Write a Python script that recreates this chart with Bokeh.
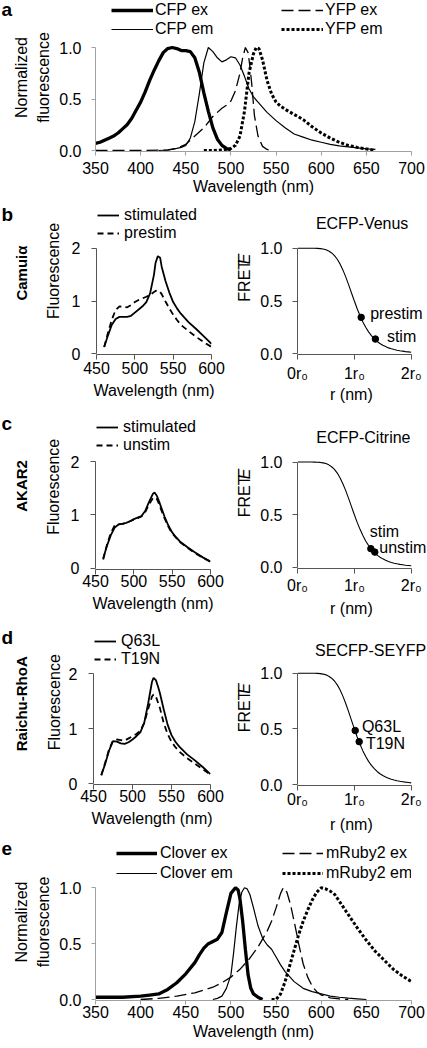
import math
from bokeh.plotting import figure
from bokeh.models import Range1d, Legend, LegendItem, Label, FixedTicker, NumeralTickFormatter
from bokeh.layouts import column, row
from bokeh.embed import file_html
from bokeh.resources import INLINE

FONT = "Liberation Sans"
FS = "16px"
LIGHT = "#a0a0a0"
DARK = "#555555"
NBSP = "\u00a0"

# ---------------- data ----------------
# panel a: CFP / YFP spectra
cfp_ex_wl = [350, 355, 360, 365, 370, 375, 380, 385, 390, 395, 400, 405, 410, 415, 420, 425, 430, 435, 440, 445, 450, 455, 460, 465, 470, 475, 480, 485, 490, 495, 500]
cfp_ex = [0.07, 0.08, 0.10, 0.12, 0.14, 0.17, 0.21, 0.25, 0.31, 0.39, 0.47, 0.57, 0.68, 0.78, 0.87, 0.95, 0.99, 1.0, 0.99, 0.97, 0.97, 0.96, 0.90, 0.76, 0.56, 0.38, 0.22, 0.11, 0.05, 0.02, 0.005]
cfp_em_wl = [420, 430, 440, 445, 450, 455, 460, 465, 470, 475, 480, 485, 490, 495, 500, 505, 510, 515, 520, 525, 530, 540, 550, 560, 570, 580, 590, 600, 610, 620, 630, 640, 650, 660]
cfp_em = [0.0, 0.005, 0.02, 0.03, 0.05, 0.12, 0.28, 0.55, 0.85, 1.0, 0.96, 0.90, 0.86, 0.88, 0.91, 0.90, 0.83, 0.72, 0.60, 0.52, 0.47, 0.37, 0.29, 0.22, 0.16, 0.13, 0.10, 0.08, 0.06, 0.045, 0.035, 0.025, 0.015, 0.01]
yfp_ex_wl = [350, 400, 430, 440, 450, 460, 470, 480, 490, 495, 500, 505, 510, 513, 516, 519, 521, 523, 526, 530, 535, 540, 545]
yfp_ex = [0.0, 0.0, 0.005, 0.02, 0.06, 0.14, 0.22, 0.33, 0.41, 0.44, 0.48, 0.58, 0.75, 0.90, 1.0, 0.95, 0.82, 0.65, 0.34, 0.14, 0.04, 0.01, 0.0]
yfp_em_wl = [470, 480, 490, 500, 505, 510, 515, 520, 525, 528, 531, 535, 540, 545, 550, 555, 560, 570, 580, 590, 600, 610, 620, 630, 640, 650, 660]
yfp_em = [0.0, 0.0, 0.005, 0.02, 0.05, 0.14, 0.38, 0.75, 0.94, 1.0, 0.99, 0.88, 0.68, 0.55, 0.47, 0.43, 0.40, 0.35, 0.30, 0.23, 0.17, 0.12, 0.08, 0.05, 0.03, 0.015, 0.0]

# panels b-d: emission spectra of the sensors
sens_wl = [460, 465, 470, 475, 480, 485, 490, 495, 500, 505, 510, 515, 520, 525, 527, 530, 533, 535, 540, 545, 550, 555, 560, 570, 580, 590, 600]
camui_stim = [0.13, 0.35, 0.55, 0.66, 0.70, 0.70, 0.70, 0.72, 0.78, 0.84, 0.90, 0.98, 1.15, 1.50, 1.72, 1.85, 1.82, 1.65, 1.38, 1.16, 0.98, 0.86, 0.76, 0.60, 0.47, 0.33, 0.19]
camui_pre = [0.13, 0.40, 0.65, 0.83, 0.90, 0.89, 0.88, 0.92, 0.98, 1.02, 1.05, 1.08, 1.12, 1.17, 1.19, 1.20, 1.17, 1.13, 0.99, 0.86, 0.74, 0.64, 0.55, 0.43, 0.32, 0.22, 0.13]
akar_stim = [0.18, 0.42, 0.62, 0.76, 0.82, 0.83, 0.85, 0.88, 0.92, 0.95, 0.98, 1.08, 1.25, 1.40, 1.42, 1.36, 1.25, 1.17, 0.97, 0.80, 0.67, 0.58, 0.50, 0.39, 0.29, 0.20, 0.12]
akar_unstim = [0.16, 0.44, 0.66, 0.80, 0.82, 0.83, 0.85, 0.88, 0.91, 0.94, 0.97, 1.06, 1.20, 1.32, 1.33, 1.30, 1.20, 1.12, 0.94, 0.78, 0.65, 0.57, 0.49, 0.38, 0.28, 0.19, 0.12]
rhoa_q63l = [0.15, 0.36, 0.60, 0.77, 0.76, 0.73, 0.72, 0.75, 0.80, 0.86, 0.93, 1.10, 1.45, 1.85, 1.92, 1.88, 1.75, 1.65, 1.35, 1.07, 0.88, 0.76, 0.67, 0.53, 0.42, 0.30, 0.17]
rhoa_t19n = [0.15, 0.38, 0.62, 0.78, 0.80, 0.79, 0.78, 0.82, 0.86, 0.90, 0.96, 1.10, 1.35, 1.58, 1.62, 1.58, 1.46, 1.38, 1.10, 0.90, 0.76, 0.66, 0.58, 0.46, 0.36, 0.26, 0.16]

# FRET efficiency vs distance (in units of r0)
fret_r = [0.0, 0.05, 0.1, 0.15, 0.2, 0.25, 0.3, 0.35, 0.4, 0.45, 0.5, 0.55, 0.6, 0.65, 0.7, 0.75, 0.8, 0.85, 0.9, 0.95, 1.0,
          1.05, 1.1, 1.15, 1.2, 1.25, 1.3, 1.35, 1.4, 1.45, 1.5, 1.55, 1.6, 1.65, 1.7, 1.75, 1.8, 1.85, 1.9, 1.95, 2.0]
fret_e = [1.0, 1.0, 1.0, 1.0, 1.0, 1.0, 0.999, 0.998, 0.996, 0.992, 0.985, 0.973, 0.955, 0.930, 0.895, 0.849, 0.792, 0.726, 0.653, 0.576, 0.500,
          0.427, 0.361, 0.302, 0.251, 0.208, 0.172, 0.142, 0.117, 0.097, 0.081, 0.068, 0.056, 0.047, 0.040, 0.034, 0.029, 0.025, 0.021, 0.018, 0.015]
camui_pts_r = [1.12, 1.37]
camui_pts_e = [0.345, 0.14]
camui_pts_lbl = ["prestim", "stim"]
akar_pts_r = [1.29, 1.36]
akar_pts_e = [0.178, 0.145]
akar_pts_lbl = ["stim", "unstim"]
rhoa_pts_r = [1.015, 1.085]
rhoa_pts_e = [0.485, 0.385]
rhoa_pts_lbl = ["Q63L", "T19N"]

# panel e: Clover / mRuby2 spectra
clov_ex_wl = [350, 380, 400, 410, 420, 430, 440, 450, 460, 465, 470, 475, 480, 485, 490, 495, 500, 505, 508, 510, 513, 516, 519, 522, 525, 530, 535]
clov_ex = [0.02, 0.02, 0.03, 0.04, 0.05, 0.09, 0.15, 0.23, 0.33, 0.40, 0.46, 0.50, 0.52, 0.54, 0.60, 0.78, 0.95, 1.0, 0.98, 0.90, 0.70, 0.45, 0.22, 0.10, 0.05, 0.02, 0.0]
clov_em_wl = [480, 485, 490, 495, 500, 503, 506, 509, 512, 515, 518, 521, 525, 530, 535, 540, 545, 550, 555, 560, 570, 580, 590, 600, 610, 620, 630, 640, 650]
clov_em = [0.0, 0.01, 0.03, 0.10, 0.22, 0.42, 0.65, 0.85, 0.96, 1.0, 0.99, 0.94, 0.82, 0.66, 0.55, 0.49, 0.45, 0.38, 0.31, 0.25, 0.16, 0.10, 0.07, 0.05, 0.03, 0.02, 0.012, 0.006, 0.0]
ruby_ex_wl = [400, 420, 440, 460, 480, 490, 500, 510, 520, 530, 540, 545, 550, 555, 558, 562, 566, 570, 575, 580, 585, 590, 595, 600, 610, 620, 630]
ruby_ex = [0.0, 0.01, 0.03, 0.06, 0.11, 0.15, 0.20, 0.27, 0.36, 0.47, 0.61, 0.70, 0.82, 0.95, 1.0, 0.96, 0.85, 0.70, 0.50, 0.32, 0.20, 0.12, 0.07, 0.04, 0.015, 0.005, 0.0]
ruby_em_wl = [545, 550, 555, 560, 565, 570, 575, 580, 585, 590, 595, 600, 605, 610, 615, 620, 630, 640, 650, 660, 670, 680, 690, 700]
ruby_em = [0.0, 0.0, 0.05, 0.16, 0.30, 0.44, 0.58, 0.70, 0.80, 0.89, 0.96, 1.0, 0.99, 0.97, 0.94, 0.88, 0.76, 0.64, 0.53, 0.43, 0.35, 0.27, 0.21, 0.16]

wl_ticks = [350, 400, 450, 500, 550, 600, 650, 700]
sens_ticks = [450, 500, 550, 600]
r_ticks = [0, 1, 2]
r_tick_labels = ["0r\u2080", "1r\u2080", "2r\u2080"]

THICK = dict(line_width=3.3)
THIN = dict(line_width=1.2)
LDASH = dict(line_width=1.3, line_dash="12 5")
DOTS = dict(line_width=3, line_dash="3 2", line_cap="butt")
SOLID2 = dict(line_width=1.8)
DASH2 = dict(line_width=1.8, line_dash="6 4")

FIXED = dict(width_policy="fixed", height_policy="fixed", output_backend="svg",
             toolbar_location=None, tools="")


# ---------------- helpers ----------------
def tfig(w, h):
    p = figure(width=w, height=h, x_range=Range1d(0, w), y_range=Range1d(0, h),
               x_axis_type=None, y_axis_type=None,
               min_border_left=0, min_border_right=0, min_border_top=0, min_border_bottom=0, **FIXED)
    p.outline_line_color = None
    return p


def tlabel(p, text, x, y_mid, size=FS, style="normal", align="center", angle=0.0):
    # y_mid: distance of the text's middle from the top of this figure
    p.add_layout(Label(x=x, y=p.height - y_mid, text=text, text_font=FONT, text_font_size=size,
                       text_font_style=style, text_color="black", text_align=align,
                       text_baseline="middle", angle=angle))


def vlabel(p, text, x, y_mid, size=FS, style="normal"):
    tlabel(p, text, x, y_mid, size=size, style=style, align="center", angle=math.pi / 2)


def span(frame_top, frame_bottom, px0, px1, v0, v1):
    k = (v1 - v0) / (px0 - px1)
    return (v0 - (frame_bottom - px0) * k, v0 + (px0 - frame_top) * k)


def pfig(w, h, fl, fr, ft, fb, xr, yr, axcol, tick_out, xms, xas, yms):
    p = figure(width=w, height=h, min_border_left=fl, min_border_right=w - fr,
               min_border_top=ft, min_border_bottom=h - fb,
               x_range=Range1d(*xr), y_range=Range1d(*yr), **FIXED)
    p.grid.visible = False
    p.outline_line_color = None
    for ax in (p.xaxis[0], p.yaxis[0]):
        ax.axis_line_color = axcol
        ax.axis_line_width = 1
        ax.major_tick_line_color = axcol
        ax.major_tick_out = tick_out
        ax.major_tick_in = 0
        ax.minor_tick_line_color = None
        ax.major_label_text_font = FONT
        ax.major_label_text_font_size = FS
        ax.major_label_text_color = "black"
        ax.axis_label_text_font = FONT
        ax.axis_label_text_font_size = FS
        ax.axis_label_text_font_style = "normal"
        ax.axis_label_text_color = "black"
    p.xaxis[0].major_label_standoff = xms
    p.xaxis[0].axis_label_standoff = xas
    p.yaxis[0].major_label_standoff = yms
    return p


def legend(items, loc, gw, standoff, spacing):
    return Legend(items=[LegendItem(label=lab, renderers=[rr]) for lab, rr in items],
                  location=loc, orientation="vertical", glyph_width=gw, glyph_height=18,
                  label_height=18, label_standoff=standoff, spacing=spacing, padding=0, margin=0,
                  border_line_color=None, background_fill_alpha=0,
                  label_text_font=FONT, label_text_font_size=FS, label_text_color="black")


def spectra_row(S, series):
    h = S["h"]
    t = tfig(56, h)
    tlabel(t, S["letter"], 1, S["letter_mid"], size="19px", style="bold", align="left")
    vlabel(t, "Normalized", 21.2, S["ylab_c"])
    vlabel(t, "fluorescence", 42.7, S["ylab_c"])
    fb = S["fb"]
    yr = span(0, fb, S["v0"], S["v1"], 0, 1)
    p = pfig(371, h, 38, 355, 0, fb, (350, 700), yr, LIGHT, 4, S["xms"], S["xas"], 10)
    p.xaxis[0].ticker = FixedTicker(ticks=wl_ticks)
    p.yaxis[0].ticker = FixedTicker(ticks=[0, 0.5, 1.0])
    p.yaxis[0].formatter = NumeralTickFormatter(format="0.0")
    p.yaxis[0].bounds = (0, 1)
    p.xaxis[0].axis_label = "Wavelength (nm)"
    rs = []
    for wl, vals, style, lab in series:
        rs.append((lab, p.line(wl, vals, line_color="black", **style)))
    x1, x2, vy, gw, so, sp = S["leg"]
    p.add_layout(legend(rs[:2], (x1, vy), gw, so, sp))
    p.add_layout(legend(rs[2:], (x2, vy), gw, so, sp))
    return row(t, p, width=427, height=h, sizing_mode="fixed")


def sensor_row(S, s1, s2, lab1, lab2, pts_r, pts_e, pts_lbl):
    h = S["h"]
    # left texts
    tL = tfig(62, h)
    tlabel(tL, S["letter"], 1, S["letter_mid"], size="19px", style="bold", align="left")
    vlabel(tL, S["name"], S["name_x"], S["name_c"], size="15px", style="bold")
    vlabel(tL, "Fluorescence", S["fluo_x"], S["fluo_c"])
    # left spectra plot
    fl, fr, fb = S["L_frame"]
    yr = span(0, fb, S["L_v0"], S["L_v2"], 0, 2)
    pl = pfig(164, h, fl, fr, 0, fb, (450, 600), yr, DARK, 5, S["L_xms"], S["L_xas"], 11)
    pl.xaxis[0].ticker = FixedTicker(ticks=sens_ticks)
    pl.yaxis[0].ticker = FixedTicker(ticks=[0, 1, 2])
    pl.yaxis[0].bounds = (0, 2)
    pl.xaxis[0].axis_label = "Wavelength (nm)"
    r1 = pl.line(sens_wl, s1, line_color="black", **SOLID2)
    r2 = pl.line(sens_wl, s2, line_color="black", **DASH2)
    pl.add_layout(legend([(lab1, r1), (lab2, r2)], (S["leg_vx"], S["leg_vy"]), 22, 5, S["leg_sp"]))
    # FRET E label (rotated, italic E)
    tM = tfig(28, h)
    vlabel(tM, "FRET", S["fe_x"], S["fe_c"] + 7.5)
    vlabel(tM, "E", S["fe_x"], S["fe_c"] - 23.1, style="italic")
    # right column: title + FRET curve
    th = S["title_h"]
    tT = tfig(173, th)
    tlabel(tT, S["title"], S["title_x"], S["title_mid"])
    hR = h - th
    fbR = S["R_fb"] - th
    yrR = span(0, fbR, S["R_v0"] - th, S["R_v1"] - th, 0, 1)
    xmax = (173 - 43) * 2 / (410.7 - 297)
    pr = pfig(173, hR, 43, 173, 0, fbR, (0, xmax), yrR, DARK, 5, S["R_xms"], S["R_xas"], 10)
    pr.xaxis[0].ticker = FixedTicker(ticks=r_ticks)
    pr.xaxis[0].major_label_overrides = {t: s for t, s in zip(r_ticks, r_tick_labels)}
    pr.xaxis[0].bounds = (0, 2)
    # the frame runs on past 2r0 (room for point labels); pad so the label centres under 0..2r0
    pr.xaxis[0].axis_label = "r (nm)" + NBSP * 5
    pr.yaxis[0].ticker = FixedTicker(ticks=[0, 0.5, 1.0])
    pr.yaxis[0].formatter = NumeralTickFormatter(format="0.0")
    pr.yaxis[0].bounds = (0, 1)
    pr.line(fret_r, fret_e, line_color="black", line_width=1.1)
    pr.scatter(pts_r, pts_e, size=6.5, color="black")
    for rr, ee, lab, (xo, yo) in zip(pts_r, pts_e, pts_lbl, S["pt_off"]):
        pr.add_layout(Label(x=rr, y=ee, x_offset=xo, y_offset=yo, text=lab, text_font=FONT,
                            text_font_size=FS, text_color="black", text_baseline="middle"))
    right = column(tT, pr, width=173, height=h, sizing_mode="fixed")
    return row(tL, pl, tM, right, width=427, height=h, sizing_mode="fixed")


# ---------------- panel a ----------------
ra = spectra_row(dict(h=204, letter="a", letter_mid=11.5, ylab_c=104, fb=151, v0=150, v1=47,
                      xms=6, xas=1, leg=(16, 186, 113, 42, 2, 1)),
                 [(cfp_ex_wl, cfp_ex, THICK, "CFP ex"), (cfp_em_wl, cfp_em, THIN, "CFP em"),
                  (yfp_ex_wl, yfp_ex, LDASH, "YFP ex"), (yfp_em_wl, yfp_em, DOTS, "YFP em")])

# ---------------- panels b-d ----------------
rb = sensor_row(dict(h=210, letter="b", letter_mid=14.4, name="Camui\u03b1", name_x=20.8, name_c=96,
                     fluo_x=53.4, fluo_c=93, L_frame=(34, 149, 150), L_v0=149.3, L_v2=43.7,
                     L_xms=2, L_xas=5, leg_vx=1, leg_vy=112.3, leg_sp=-2,
                     fe_x=17.7, fe_c=99.3, title="ECFP-Venus", title_h=32, title_x=86, title_mid=19,
                     R_fb=150, R_v0=149.3, R_v1=43.7, R_xms=5, R_xas=1, pt_off=[(9, 4), (11.5, 3)]),
                camui_stim, camui_pre, "stimulated", "prestim", camui_pts_r, camui_pts_e, camui_pts_lbl)
rc = sensor_row(dict(h=210, letter="c", letter_mid=12.4, name="AKAR2", name_x=21.2, name_c=96.8,
                     fluo_x=53.4, fluo_c=98, L_frame=(33, 148, 155), L_v0=153.5, L_v2=47.3,
                     L_xms=0, L_xas=5, leg_vx=1, leg_vy=115, leg_sp=-1,
                     fe_x=18.4, fe_c=103.5, title="ECFP-Citrine", title_h=34, title_x=87.7, title_mid=22.7,
                     R_fb=154, R_v0=152.9, R_v1=47.5, R_xms=3, R_xas=3, pt_off=[(-1, 17.5), (4.5, 5)]),
                akar_stim, akar_unstim, "stimulated", "unstim", akar_pts_r, akar_pts_e, akar_pts_lbl)
rd = sensor_row(dict(h=212, letter="d", letter_mid=17.7, name="Raichu-RhoA", name_x=21.2, name_c=105,
                     fluo_x=54, fluo_c=103, L_frame=(31, 148, 160), L_v0=159, L_v2=49,
                     L_xms=0, L_xas=5, leg_vx=1, leg_vy=116.3, leg_sp=-2,
                     fe_x=18.4, fe_c=107.7, title="SECFP-SEYFP", title_h=36, title_x=97.3, title_mid=26,
                     R_fb=161, R_v0=160, R_v1=48.7, R_xms=0, R_xas=5, pt_off=[(6.7, 4), (6.7, -1.4)]),
                rhoa_q63l, rhoa_t19n, "Q63L", "T19N", rhoa_pts_r, rhoa_pts_e, rhoa_pts_lbl)

# ---------------- panel e ----------------
re_ = spectra_row(dict(h=211, letter="e", letter_mid=15.4, ylab_c=110, fb=164, v0=163, v1=51.3,
                       xms=1, xas=2, leg=(21, 187, 118, 41, 3, 2)),
                  [(clov_ex_wl, clov_ex, THICK, "Clover ex"), (clov_em_wl, clov_em, THIN, "Clover em"),
                   (ruby_ex_wl, ruby_ex, LDASH, "mRuby2 ex"), (ruby_em_wl, ruby_em, DOTS, "mRuby2 em")])

layout = column(ra, rb, rc, rd, re_, width=427, height=204 + 210 + 210 + 212 + 211, sizing_mode="fixed")
open("out.html", "w").write(file_html(layout, INLINE))
